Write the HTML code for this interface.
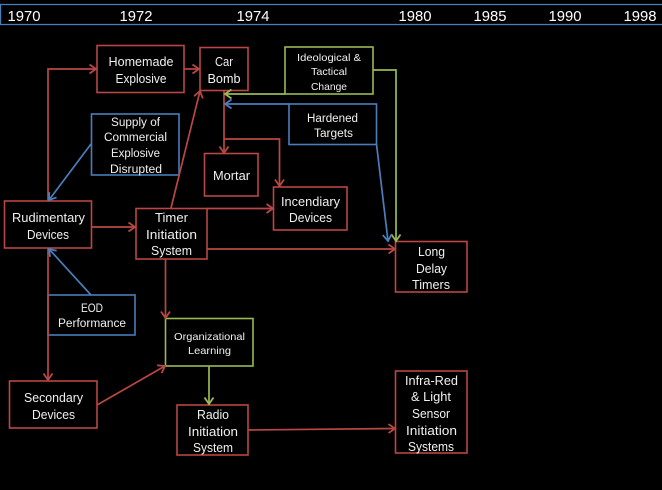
<!DOCTYPE html>
<html>
<head>
<meta charset="utf-8">
<style>
html,body{margin:0;padding:0;background:#000;width:662px;height:490px;overflow:hidden}
svg{display:block}
text{font-family:"Liberation Sans",sans-serif;fill:#f0f0f0;text-anchor:middle;font-size:12.5px}
.y{font-size:15px;fill:#fff}
.s{font-size:10.5px}
.b{fill:#000;stroke-width:1.6}
.r{stroke:#b94744}
.u{stroke:#4a7ebb}
.g{stroke:#98b954}
.l{fill:none;stroke-width:1.7}
</style>
</head>
<body>
<svg xmlns="http://www.w3.org/2000/svg" width="662" height="490" viewBox="0 0 662 490">
<defs>
<marker id="ar" markerUnits="userSpaceOnUse" markerWidth="14" markerHeight="14" refX="10" refY="7" orient="auto"><path d="M3.500 2.500L10 7L3.500 11.500" fill="none" stroke="#b94744" stroke-width="1.800"/></marker>
<marker id="au" markerUnits="userSpaceOnUse" markerWidth="14" markerHeight="14" refX="10" refY="7" orient="auto"><path d="M3.500 2.500L10 7L3.500 11.500" fill="none" stroke="#4a7ebb" stroke-width="1.800"/></marker>
<marker id="ag" markerUnits="userSpaceOnUse" markerWidth="14" markerHeight="14" refX="10" refY="7" orient="auto"><path d="M3.500 2.500L10 7L3.500 11.500" fill="none" stroke="#98b954" stroke-width="1.800"/></marker>
</defs>
<rect width="662" height="490" fill="#000"/>
<path d="M664 4.500H0.500V24.500H664" fill="none" stroke="#4a7ebb" stroke-width="1.300"/>
<text class="y" x="24" y="21" textLength="33" lengthAdjust="spacingAndGlyphs">1970</text>
<text class="y" x="136" y="21" textLength="33" lengthAdjust="spacingAndGlyphs">1972</text>
<text class="y" x="253" y="21" textLength="33" lengthAdjust="spacingAndGlyphs">1974</text>
<text class="y" x="415" y="21" textLength="33" lengthAdjust="spacingAndGlyphs">1980</text>
<text class="y" x="490" y="21" textLength="33" lengthAdjust="spacingAndGlyphs">1985</text>
<text class="y" x="565" y="21" textLength="33" lengthAdjust="spacingAndGlyphs">1990</text>
<text class="y" x="640" y="21" textLength="33" lengthAdjust="spacingAndGlyphs">1998</text>

<rect class="b r" x="97" y="45.500" width="87" height="47"/>
<rect class="b r" x="200" y="47.500" width="48" height="43"/>
<rect class="b g" x="285" y="47" width="88" height="47"/>
<rect class="b u" x="91.500" y="114" width="87.500" height="61"/>
<rect class="b u" x="289" y="104" width="87.500" height="40.500"/>
<rect class="b r" x="204.500" y="153.500" width="53.500" height="42.500"/>
<rect class="b r" x="273.500" y="187" width="73.500" height="43"/>
<rect class="b r" x="4.500" y="201" width="87" height="47"/>
<rect class="b r" x="136" y="208.500" width="71" height="50.500"/>
<rect class="b u" x="48" y="295" width="87" height="40"/>
<rect class="b g" x="165.500" y="318.500" width="87.500" height="47.500"/>
<rect class="b r" x="9.500" y="381" width="87.500" height="47"/>
<rect class="b r" x="177" y="405" width="71" height="50"/>
<rect class="b r" x="395.500" y="241.500" width="71.500" height="50.500"/>
<rect class="b r" x="395.500" y="371" width="71.500" height="82"/>

<path class="l r" d="M48 201V69H96" marker-end="url(#ar)"/>
<path class="l r" d="M184 69H199" marker-end="url(#ar)"/>
<path class="l u" d="M91 144L49 200" marker-end="url(#au)"/>
<path class="l r" d="M171 208L200 91" marker-end="url(#ar)"/>
<path class="l r" d="M224 91V153" marker-end="url(#ar)"/>
<path class="l r" d="M224 139H279.500V186" marker-end="url(#ar)"/>
<path class="l g" d="M285 94H225" marker-end="url(#ag)"/>
<path class="l u" d="M289 104H225" marker-end="url(#au)"/>
<path class="l r" d="M207 208.500H273" marker-end="url(#ar)"/>
<path class="l r" d="M92 227H135" marker-end="url(#ar)"/>
<path class="l r" d="M207 249H395" marker-end="url(#ar)"/>
<path class="l r" d="M165.500 259V318" marker-end="url(#ar)"/>
<path class="l r" d="M48 248V380" marker-end="url(#ar)"/>
<path class="l u" d="M91 295L49 249" marker-end="url(#au)"/>
<path class="l r" d="M97 405L165 366" marker-end="url(#ar)"/>
<path class="l g" d="M209 366V404" marker-end="url(#ag)"/>
<path class="l r" d="M248 430L395 428.500" marker-end="url(#ar)"/>
<path class="l g" d="M373 70H396V241" marker-end="url(#ag)"/>
<path class="l u" d="M376.500 144L388 241" marker-end="url(#au)"/>

<text x="141" y="66" textLength="65" lengthAdjust="spacingAndGlyphs">Homemade</text>
<text x="141" y="83" textLength="51" lengthAdjust="spacingAndGlyphs">Explosive</text>
<text x="224" y="66" textLength="18" lengthAdjust="spacingAndGlyphs">Car</text>
<text x="224" y="83" textLength="33" lengthAdjust="spacingAndGlyphs">Bomb</text>
<text class="s" x="329" y="61" textLength="64" lengthAdjust="spacingAndGlyphs">Ideological &amp;</text>
<text class="s" x="329" y="75" textLength="36" lengthAdjust="spacingAndGlyphs">Tactical</text>
<text class="s" x="329" y="90" textLength="36" lengthAdjust="spacingAndGlyphs">Change</text>
<text style="font-size:11.500px" x="332.500" y="122" textLength="51" lengthAdjust="spacingAndGlyphs">Hardened</text>
<text style="font-size:11.500px" x="333.500" y="137" textLength="39" lengthAdjust="spacingAndGlyphs">Targets</text>
<text style="font-size:11.500px" x="135.500" y="126" textLength="49" lengthAdjust="spacingAndGlyphs">Supply of</text>
<text style="font-size:11.500px" x="135.500" y="141" textLength="63" lengthAdjust="spacingAndGlyphs">Commercial</text>
<text style="font-size:11.500px" x="135.500" y="157" textLength="49" lengthAdjust="spacingAndGlyphs">Explosive</text>
<text style="font-size:11.500px" x="136" y="173" textLength="52" lengthAdjust="spacingAndGlyphs">Disrupted</text>
<text x="231.500" y="180" textLength="37" lengthAdjust="spacingAndGlyphs">Mortar</text>
<text x="310.500" y="206" textLength="59" lengthAdjust="spacingAndGlyphs">Incendiary</text>
<text x="310.500" y="222" textLength="43" lengthAdjust="spacingAndGlyphs">Devices</text>
<text x="48.500" y="222" textLength="73" lengthAdjust="spacingAndGlyphs">Rudimentary</text>
<text x="48" y="239" textLength="42" lengthAdjust="spacingAndGlyphs">Devices</text>
<text x="171.500" y="222" textLength="33" lengthAdjust="spacingAndGlyphs">Timer</text>
<text x="171.500" y="239" textLength="51" lengthAdjust="spacingAndGlyphs">Initiation</text>
<text x="171.500" y="255" textLength="41" lengthAdjust="spacingAndGlyphs">System</text>
<text style="font-size:11.500px" x="92" y="312" textLength="22" lengthAdjust="spacingAndGlyphs">EOD</text>
<text style="font-size:11.500px" x="92" y="327" textLength="68" lengthAdjust="spacingAndGlyphs">Performance</text>
<text class="s" x="209.500" y="340" textLength="71" lengthAdjust="spacingAndGlyphs">Organizational</text>
<text class="s" x="209.500" y="354" textLength="43" lengthAdjust="spacingAndGlyphs">Learning</text>
<text x="53.500" y="402" textLength="59" lengthAdjust="spacingAndGlyphs">Secondary</text>
<text x="53.500" y="419" textLength="43" lengthAdjust="spacingAndGlyphs">Devices</text>
<text x="213" y="419" textLength="32" lengthAdjust="spacingAndGlyphs">Radio</text>
<text x="213" y="436" textLength="50" lengthAdjust="spacingAndGlyphs">Initiation</text>
<text x="213" y="452" textLength="40" lengthAdjust="spacingAndGlyphs">System</text>
<text x="431.500" y="256" textLength="27" lengthAdjust="spacingAndGlyphs">Long</text>
<text x="431.500" y="273" textLength="31" lengthAdjust="spacingAndGlyphs">Delay</text>
<text x="431" y="289" textLength="38" lengthAdjust="spacingAndGlyphs">Timers</text>
<text x="431.500" y="385" textLength="53" lengthAdjust="spacingAndGlyphs">Infra-Red</text>
<text x="431" y="401" textLength="40" lengthAdjust="spacingAndGlyphs">&amp; Light</text>
<text x="431" y="418" textLength="38" lengthAdjust="spacingAndGlyphs">Sensor</text>
<text x="431.500" y="435" textLength="51" lengthAdjust="spacingAndGlyphs">Initiation</text>
<text x="431" y="451" textLength="46" lengthAdjust="spacingAndGlyphs">Systems</text>
</svg>
</body>
</html>
